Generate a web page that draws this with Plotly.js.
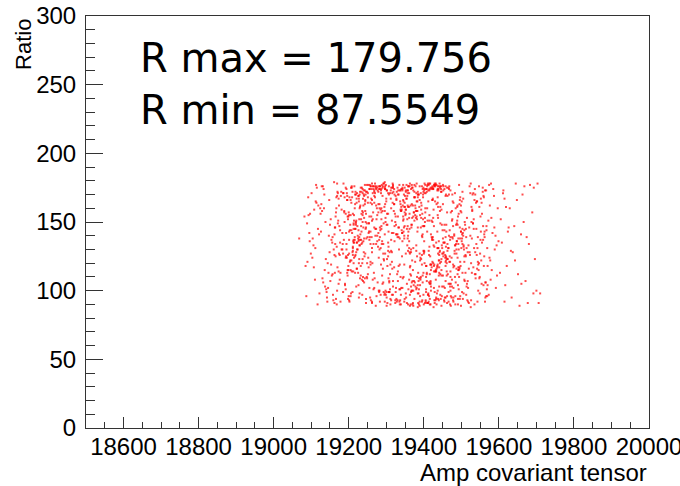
<!DOCTYPE html>
<html>
<head>
<meta charset="utf-8">
<script src="https://cdn.plot.ly/plotly-3.0.1.min.js"></script>
<style>
  html, body { margin: 0; padding: 0; background: #fff; }
  #chart { width: 680px; height: 486px; }
</style>
</head>
<body>
<div id="chart"></div>
<script>
// Scatter of the amplitude covariant tensor against the ratio, split by region.
// Central dense block (x ~ 19180-19520)
const ampCore = [
19183,19412,19297,19468,19235,19351,19506,19264,19389,19322,19441,19208,19375,19493,19256,19338,19427,19301,19219,19482,
19366,19244,19455,19313,19398,19192,19431,19277,19359,19514,19229,19404,19286,19347,19472,19201,19419,19331,19265,19447,
19309,19488,19226,19383,19436,19271,19355,19197,19462,19318,19249,19401,19344,19497,19213,19425,19290,19372,19459,19238,
19393,19251,19477,19325,19186,19438,19362,19282,19509,19234,19416,19305,19369,19452,19196,19341,19423,19268,19487,19315,
19445,19216,19336,19401,19278,19466,19189,19357,19432,19298,19511,19243,19386,19326,19471,19207,19413,19349,19259,19440,
19273,19458,19317,19230,19395,19484,19262,19346,19421,19205,19378,19499,19292,19434,19352,19221,19464,19307,19391,19248,
19426,19335,19200,19474,19283,19407,19356,19518,19241,19382,19297,19449,19213,19368,19490,19276,19339,19415,19227,19461,
19312,19396,19257,19443,19181,19364,19478,19302,19429,19266,19358,19503,19222,19410,19330,19254,19453,19384,19290,19211,
19481,19245,19374,19319,19437,19198,19406,19285,19463,19343,19217,19392,19508,19272,19354,19422,19237,19470,19328,19399,
19259,19417,19340,19492,19226,19381,19303,19450,19195,19363,19436,19279,19515,19324,19401,19248,19376,19467,19296,19204,
19373,19230,19458,19311,19404,19267,19496,19345,19185,19419,19287,19443,19360,19214,19388,19475,19306,19252,19431,19337,
19492,19316,19241,19385,19456,19203,19342,19411,19275,19506,19367,19232,19446,19299,19390,19261,19478,19321,19418,19194,
19350,19462,19282,19219,19395,19439,19308,19253,19487,19369,19199,19424,19336,19470,19244,19381,19512,19293,19357,19408,
19228,19379,19447,19300,19513,19262,19421,19343,19190,19458,19315,19397,19270,19432,19356,19485,19210,19372,19441,19284,
19403,19266,19332,19479,19211,19348,19427,19295,19383,19236,19501,19361,19418,19251,19326,19466,19187,19393,19305,19453,
19318,19436,19207,19362,19494,19281,19409,19240,19371,19448,19297,19520,19333,19217,19387,19459,19274,19344,19486,19229,
19465,19290,19380,19224,19438,19353,19193,19475,19310,19402,19258,19367,19429,19201,19346,19498,19279,19414,19238,19377,
19246,19391,19503,19328,19268,19443,19213,19366,19489,19303,19424,19185,19349,19460,19287,19399,19334,19221,19471,19356,
19431,19199,19352,19415,19293,19481,19338,19258,19406,19217,19375,19452,19320,19495,19241,19386,19427,19305,19192,19448,
19384,19475,19239,19306,19458,19370,19205,19425,19349,19282,19517,19233,19397,19461,19315,19188,19441,19361,19273,19408,
19297,19357,19434,19489,19213,19322,19472,19254,19391,19438,19196,19343,19505,19268,19420,19331,19479,19226,19385,19451,
19204,19446,19317,19376,19401,19262,19358,19493,19231,19416,19339,19469,19280,19352,19184,19437,19300,19408,19246,19365
];
const ratioCore = [
142,97,163,121,108,155,133,171,92,147,126,114,168,101,139,159,118,95,150,129,
111,166,135,93,152,124,177,106,143,131,98,160,119,146,89,137,103,170,157,115,
128,149,104,165,117,140,91,154,123,175,109,136,162,96,148,120,158,100,132,167,
153,112,138,99,171,127,145,163,107,134,90,156,122,176,113,144,166,102,130,151,
94,160,119,147,132,105,168,138,115,153,126,173,98,141,110,164,129,157,93,136,
145,121,178,109,140,96,131,152,117,166,103,143,127,90,159,135,112,170,124,149,
133,101,157,124,146,118,169,92,138,110,174,127,149,106,162,140,97,155,120,114,
167,139,95,158,130,112,147,123,177,101,161,134,116,151,93,143,128,172,105,156,
118,150,107,142,164,126,99,159,134,175,113,146,121,89,167,137,155,103,141,129,
176,125,161,115,136,154,91,144,171,117,131,163,105,150,128,110,168,140,98,122,
104,172,139,94,157,113,146,166,127,100,152,120,176,135,161,108,143,124,93,165,
138,116,153,170,102,144,125,91,160,132,148,111,172,97,155,139,119,163,107,130,
161,96,130,148,119,174,106,142,127,153,115,167,90,137,158,102,145,123,171,112,
123,158,111,165,139,92,151,136,104,169,121,147,176,108,133,160,99,154,117,144,
150,134,173,102,126,161,114,97,143,120,165,131,106,171,148,92,137,159,125,103,
97,143,122,156,110,137,160,128,91,148,176,116,139,163,101,125,152,109,134,170,
131,169,101,140,153,95,125,158,112,174,134,146,99,127,165,118,142,106,157,121,
156,109,145,92,164,129,137,103,151,118,139,171,94,148,160,113,130,167,100,152,
114,154,127,173,99,141,163,121,110,145,94,135,158,116,169,107,147,129,175,96,
170,103,146,132,118,90,155,137,164,100,128,152,174,111,142,157,122,136,162,107,
127,147,116,161,135,170,96,149,108,131,166,102,140,173,119,154,92,144,113,138,
148,121,164,106,129,151,173,115,141,94,158,125,100,156,134,119,167,91,146,162
];

// Second batch in the same central block
const ampCore2 = [
19337,19268,19452,19219,19405,19383,19291,19476,19244,19361,19428,19198,19315,19497,19272,19409,19346,19230,19463,19387,
19255,19419,19302,19488,19366,19213,19441,19327,19395,19279,19504,19348,19237,19416,19293,19457,19371,19202,19433,19318,
19479,19251,19390,19342,19224,19467,19308,19415,19263,19384,19496,19229,19352,19440,19287,19403,19196,19362,19449,19276,
19421,19335,19209,19471,19298,19382,19256,19437,19321,19500,19243,19396,19364,19218,19456,19330,19273,19412,19485,19349,
19291,19444,19233,19378,19466,19315,19403,19258,19352,19491,19207,19423,19339,19285,19462,19371,19247,19398,19326,19508,
19368,19222,19435,19301,19417,19276,19483,19343,19192,19454,19389,19260,19331,19475,19239,19406,19319,19447,19282,19363,
19400,19286,19469,19228,19357,19438,19303,19492,19265,19380,19214,19427,19346,19460,19251,19392,19313,19479,19236,19423,
19246,19373,19415,19297,19503,19334,19220,19451,19367,19283,19436,19210,19397,19325,19482,19268,19411,19355,19194,19444,
19455,19318,19262,19390,19227,19474,19341,19408,19289,19366,19499,19249,19430,19307,19382,19215,19458,19336,19419,19270,
19329,19481,19206,19363,19442,19295,19384,19253,19466,19347,19221,19413,19374,19488,19280,19401,19240,19359,19434,19311,
19426,19242,19387,19508,19316,19274,19448,19361,19199,19409,19331,19471,19258,19395,19287,19440,19350,19225,19493,19377,
19289,19399,19231,19461,19345,19418,19266,19380,19502,19212,19437,19324,19457,19296,19369,19245,19483,19405,19338,19260,
19472,19354,19296,19211,19428,19381,19253,19446,19322,19490,19237,19393,19309,19464,19270,19358,19414,19201,19439,19333,
19217,19433,19375,19281,19455,19327,19400,19244,19486,19361,19292,19422,19208,19348,19469,19306,19394,19262,19444,19379,
19358,19264,19491,19402,19234,19370,19313,19459,19288,19425,19197,19384,19340,19477,19255,19412,19302,19451,19226,19397
];
const ratioCore2 = [
101,146,127,170,93,158,116,139,165,108,132,152,97,121,175,143,110,161,129,90,
154,119,173,136,99,145,113,167,126,157,94,138,171,105,149,124,162,92,135,177,
117,164,96,142,130,174,107,151,120,98,166,133,159,111,145,91,169,128,103,155,
139,92,168,114,150,125,177,100,163,131,109,156,118,172,95,141,134,165,106,147,
176,112,137,160,99,128,153,119,173,104,144,166,90,131,157,115,138,170,102,125,
163,135,98,148,119,175,110,142,156,93,127,167,114,151,136,101,172,123,160,89,
127,171,105,139,162,94,148,117,176,133,155,102,143,124,168,110,137,95,158,121,
91,157,132,174,113,146,128,163,100,139,118,172,106,154,127,169,97,145,134,161,
148,103,166,122,137,95,159,174,111,130,143,120,165,99,152,176,107,138,115,168,
112,140,175,97,128,161,104,149,131,170,116,92,157,136,124,147,173,101,163,119,
159,125,109,144,171,96,133,153,118,176,107,139,164,92,147,122,169,113,130,155,
136,97,162,120,151,105,174,129,141,114,168,93,126,158,100,145,133,171,110,154,
105,167,141,129,93,158,117,176,136,112,150,164,99,123,171,140,96,155,131,118,
170,114,151,99,135,166,90,127,148,161,106,138,175,119,144,109,162,128,97,153,
129,152,94,171,143,107,160,122,134,174,115,146,102,165,137,98,156,111,169,141
];

// Third batch in the central block
const ampCore3 = [
19214,19287,19352,19419,19463,19238,19305,19377,19441,19490,19222,19296,19361,19428,19476,19250,19318,19389,19452,19205,
19271,19343,19408,19484,19229,19310,19366,19437,19258,19327,19398,19470,19216,19280,19355,19423,19495,19243,19301,19372,
19447,19209,19264,19336,19414,19458,19233,19292,19381,19431,19502,19255,19323,19393,19467,19220,19285,19348,19406,19479,
19241,19313,19370,19444,19201,19276,19340,19397,19455,19227,19298,19363,19425,19487,19249,19330,19385,19438,19211,19269,
19332,19402,19472,19236,19307,19375,19416,19460,19218,19283,19345,19390,19449,19262,19321,19368,19433,19497,19245,19294
];
const ratioCore3 = [
124,157,98,141,169,110,135,162,103,148,130,92,171,119,152,139,107,166,125,96,
145,174,113,133,160,101,128,155,143,94,168,121,137,176,105,150,117,163,99,131,
159,142,108,173,126,95,147,134,165,114,138,102,156,123,170,151,97,140,118,164,
106,129,175,149,93,136,158,111,144,167,100,127,153,116,172,139,91,161,132,109,
146,120,157,135,99,168,112,143,126,174,154,104,131,163,117,148,95,138,170,122
];

// Crowded upper edge near the maximum ratio
const ampTop = [
19232,19265,19281,19299,19312,19246,19270,19290,19305,19258,19395,19410,19418,19425,19432,19401,19440,19447,19413,19387,
19226,19340,19358,19372,19380,19363,19349,19455,19468,19476,19237,19252,19277,19318,19328,19421,19429,19436,19404,19392,
19286,19294,19274,19261,19243,19444,19452,19462,19415,19408,19333,19345,19366,19378,19352,19301,19316,19325,19471,19483,
19268,19283,19296,19240,19255,19420,19427,19437,19399,19384,19310,19338,19369,19354,19459,19222,19287,19412,19443,19375,
19248,19273,19292,19307,19330,19356,19375,19389,19406,19417,19428,19439,19451,19466,19234,19262,19284,19321,19343,19368,
19399,19411,19423,19434,19446,19458,19279,19296,19313,19335,19402,19415,19430,19442,19256,19288,19362,19381,19424,19437
];
const ratioTop = [
175,176,174,177,173,172,178,175,171,176,176,177,175,174,178,173,176,172,177,170,
169,174,176,173,171,178,175,174,176,170,174,177,173,176,172,175,178,173,177,171,
173,178,176,174,177,176,173,175,178,172,170,177,174,176,172,173,175,169,173,171,
172,176,175,170,174,174,177,176,172,168,171,173,175,177,170,171,174,173,175,172,
177,174,178,176,175,173,177,176,174,178,176,173,177,175,172,178,176,174,173,177,
175,178,176,177,174,176,172,179,175,177,178,174,176,178,174,177,176,178,175,174
];

// Lower edge near the minimum ratio
const ampBottom = [
19262,19301,19337,19358,19384,19405,19418,19433,19447,19462,19478,19491,19283,19324,19372,19396,19426,19455,19470,19246,
19311,19348,19389,19411,19440,19484,19227,19365,19429,19499
];
const ratioBottom = [
91,89,93,90,88,92,90,94,89,91,93,90,92,91,89,93,88,92,90,94,
90,92,89,91,93,90,95,90,91,89
];

// Transition from the left flank into the core
const ampLeft2 = [
19163,19188,19212,19236,19171,19195,19219,19168,19201,19227,19176,19183,19208,19232,19165,19192,19216,19239,19174,19198,
19223,19180,19205,19229,19167,19190,19214,19237,19178,19202,19225,19170,19194,19218,19185,19210,19234,19162,19197,19221,
19177,19200,19228,19186,19213,19238,19169,19193,19217,19181,19206,19231,19173,19196,19220,19189,19211,19235,19164,19203
];
const ratioLeft2 = [
113,158,136,97,171,124,149,90,143,165,108,130,176,118,154,101,139,162,127,94,
147,172,115,133,160,105,151,123,92,168,138,117,174,145,99,128,156,141,111,164,
135,96,152,178,120,107,169,142,125,159,98,137,114,166,103,150,131,175,146,121
];

// Sparser left flank
const ampLeft = [
19092,19118,19145,19166,19103,19131,19178,19157,19087,19124,19149,19170,19110,19138,19162,19096,19127,19153,19175,19115,
19141,19168,19082,19107,19135,19159,19121,19148,19173,19099,19129,19155,19177,19113,19142,19164,19090,19119,19151,19171,
19104,19133,19158,19176,19125,19146,19167,19095,19137,19160,19112,19143,19172,19085,19128,19154,19169,19108,19139,19163,
19101,19132,19156,19174,19117,19150,19165,19093,19136,19161,19122,19147,19179,19106,19130,19152,19068,19114,19144,19166,
19097,19126,19157,19173,19111,19140,19169,19089,19134,19162
];
const ratioLeft = [
168,145,102,157,124,176,113,139,96,160,128,172,108,150,91,136,163,119,147,175,
99,132,154,117,170,93,141,166,105,127,158,111,144,177,95,134,121,162,107,149,
138,174,97,126,156,113,168,142,103,130,165,92,151,118,176,137,100,159,123,146,
171,106,135,162,90,148,125,155,115,179,98,140,169,133,109,152,138,164,120,94,
156,143,112,167,131,101,178,149,160,126
];

// Transition from the core into the right flank
const ampMid = [
19492,19505,19518,19531,19544,19557,19569,19498,19511,19524,19537,19550,19563,19495,19508,19521,19534,19547,19560,19502,
19515,19528,19541,19554,19567,19490,19503,19516,19529,19542,19555,19568,19497,19510,19523,19536,19549,19562,19500,19513,
19526,19539,19552,19565,19494,19507,19520,19533,19546,19559,19501,19514,19527,19540,19553,19566,19496,19509,19522,19535,
19548,19561,19493,19506,19519,19532,19545,19558,19570,19499,19512,19525,19538,19551,19564,19491,19504,19517,19530,19543
];
const ratioMid = [
134,167,102,149,121,175,96,158,113,140,170,127,92,163,108,146,131,176,118,99,
153,138,165,105,144,124,172,93,159,116,135,101,168,148,126,174,110,139,157,97,
120,164,143,106,177,130,91,152,115,169,136,103,161,145,122,173,94,150,128,166,
109,141,156,98,133,171,119,147,104,162,125,178,112,137,95,154,142,107,170,131
];

// Right flank, thinning out
const ampRight = [
19524,19537,19551,19566,19583,19528,19542,19558,19574,19592,19531,19547,19563,19578,19597,19526,19540,19555,19570,19587,
19533,19549,19561,19576,19595,19522,19544,19559,19572,19589,19535,19552,19567,19581,19599,19529,19545,19562,19577,19585,
19538,19554,19569,19580,19525,19541,19557,19573,19591,19532,19548,19564,19579,19594,19527,19543,19560,19575,19588,19536
];
const ratioRight = [
171,128,154,96,142,113,165,137,177,102,149,120,173,108,160,93,134,156,118,169,
145,98,125,162,111,176,139,104,151,130,90,167,147,115,136,158,100,143,122,174,
109,164,131,153,88,126,172,97,140,117,161,106,178,133,150,92,168,124,146,112
];

// Isolated points at the far right
const ampFar = [
19605,19612,19621,19634,19648,19659,19671,19683,19696,19706,19608,19617,19629,19641,19655,19668,19680,19692,19703,19611,
19624,19637,19651,19663,19677,19689,19700,19615,19632,19645,19660,19674,19615,19626,19643,19693,19710,19603,19619,19666
];
const ratioFar = [
152,173,118,95,166,141,107,177,123,91,135,104,160,147,89,176,134,98,178,171,
143,128,112,170,91,157,100,167,129,178,105,139,92,146,122,175,98,113,161,150
];

const rMax = 179.756;
const rMin = 87.5549;

const xTitle = 'Amp covariant tensor';
const yTitle = 'Ratio';

const amp = [].concat(ampCore, ampCore2, ampCore3, ampTop, ampBottom, ampLeft2, ampLeft, ampMid, ampRight, ampFar);
const ratio = [].concat(ratioCore, ratioCore2, ratioCore3, ratioTop, ratioBottom, ratioLeft2, ratioLeft, ratioMid, ratioRight, ratioFar);

const labelFont = { family: 'Liberation Sans, Arial, sans-serif', size: 24, color: '#000' };

const trace = {
  type: 'scatter',
  mode: 'markers',
  x: amp,
  y: ratio,
  marker: { symbol: 'square', size: 2, color: 'rgba(255,0,0,0.7)', line: { width: 0 } },
  hoverinfo: 'skip'
};

const layout = {
  width: 680,
  height: 486,
  margin: { l: 86, r: 31, t: 16, b: 58, pad: 0 },
  paper_bgcolor: '#fff',
  plot_bgcolor: '#fff',
  showlegend: false,
  xaxis: {
    range: [18500, 20000],
    tick0: 18600,
    dtick: 200,
    tickformat: 'd',
    ticks: 'inside',
    ticklen: 11,
    tickwidth: 1,
    tickcolor: '#333',
    minor: { dtick: 50, ticks: 'inside', ticklen: 6, tickcolor: '#333', tickwidth: 1 },
    showline: true,
    linecolor: '#333',
    linewidth: 1,
    mirror: true,
    showgrid: false,
    zeroline: false,
    tickfont: labelFont,
    ticklabeloverflow: 'allow',
    ticklabelstandoff: -3
  },
  yaxis: {
    range: [0, 300],
    dtick: 50,
    tickformat: 'd',
    ticks: 'inside',
    ticklen: 17,
    tickwidth: 1,
    tickcolor: '#333',
    minor: { dtick: 10, ticks: 'inside', ticklen: 9, tickcolor: '#333', tickwidth: 1 },
    showline: true,
    linecolor: '#333',
    linewidth: 1,
    mirror: true,
    showgrid: false,
    zeroline: false,
    tickfont: labelFont,
    ticklabeloverflow: 'allow',
    ticklabelstandoff: 4
  },
  annotations: [
    {
      xref: 'paper', yref: 'paper', x: 1, y: -0.108,
      xanchor: 'right', yanchor: 'middle',
      text: xTitle, showarrow: false,
      font: labelFont
    },
    {
      xref: 'paper', yref: 'paper', x: -0.11, y: 0.93,
      xanchor: 'center', yanchor: 'middle', textangle: -90,
      text: yTitle, showarrow: false,
      font: { family: 'Liberation Sans, Arial, sans-serif', size: 22, color: '#000' }
    },
    {
      xref: 'paper', yref: 'paper', x: 0.0924, y: 0.898,
      xanchor: 'left', yanchor: 'middle',
      text: 'R max = ' + rMax, showarrow: false,
      font: { family: 'DejaVu Sans, sans-serif', size: 40, color: '#000' }
    },
    {
      xref: 'paper', yref: 'paper', x: 0.0924, y: 0.772,
      xanchor: 'left', yanchor: 'middle',
      text: 'R min = ' + rMin, showarrow: false,
      font: { family: 'DejaVu Sans, sans-serif', size: 40, color: '#000' }
    }
  ]
};

Plotly.newPlot('chart', [trace], layout, { staticPlot: true, displayModeBar: false });
</script>
</body>
</html>
